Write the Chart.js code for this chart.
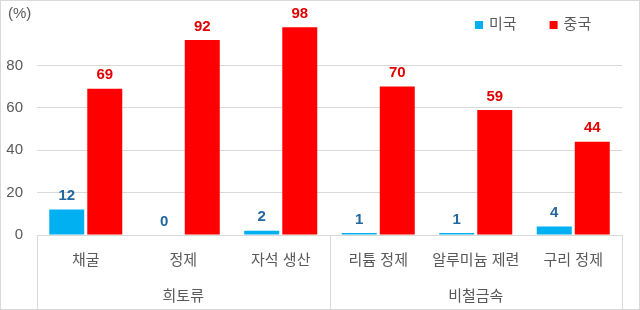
<!DOCTYPE html>
<html>
<head>
<meta charset="utf-8">
<script src="https://cdn.jsdelivr.net/npm/chart.js@4.4.1/dist/chart.umd.min.js"></script>
<style>
  html, body { margin: 0; padding: 0; background: #fff; }
</style>
</head>
<body>
<canvas id="chart" width="640" height="310"></canvas>
<script>
const categories = ["채굴", "정제", "자석 생산", "리튬 정제", "알루미늄 제련", "구리 정제"];
const groups = ["희토류", "비철금속"];
const groupSizes = [3, 3];
const usValues = [12, 0, 2, 1, 1, 4];
const chinaValues = [69, 92, 98, 70, 59, 44];
const yMax = 100;
const yStep = 20;

const FONT = '"Liberation Sans", "Noto Sans CJK KR", sans-serif';
const GRAY = "#595959";
const LINE = "#D9D9D9";

Chart.defaults.font.family = FONT;

const extras = {
  id: "extras",
  afterDatasetsDraw(chart) {
    const ctx = chart.ctx;
    ctx.save();
    // value labels over bars
    ctx.font = "bold 15px " + FONT;
    ctx.textAlign = "center";
    ctx.textBaseline = "bottom";
    chart.data.datasets.forEach((ds, i) => {
      ctx.fillStyle = ds.labelColor;
      chart.getDatasetMeta(i).data.forEach((bar, j) => {
        ctx.fillText(ds.data[j], bar.x, bar.y - 6);
      });
    });
    ctx.restore();
  },
  afterDraw(chart) {
    const ctx = chart.ctx;
    const x = chart.scales.x;
    const y = chart.scales.y;
    const area = chart.chartArea;
    ctx.save();

    // group dividers + group names
    ctx.strokeStyle = LINE;
    ctx.lineWidth = 1;
    const edges = [x.left];
    let idx = 0;
    groupSizes.forEach((n, g) => {
      idx += n;
      if (g < groupSizes.length - 1) {
        edges.push((x.getPixelForValue(idx - 1) + x.getPixelForValue(idx)) / 2);
      } else {
        edges.push(x.right);
      }
    });
    edges.forEach((px) => {
      const p = Math.round(px) + 0.5;
      ctx.beginPath();
      ctx.moveTo(p, area.bottom);
      ctx.lineTo(p, chart.height);
      ctx.stroke();
    });
    ctx.font = "15px " + FONT;
    ctx.fillStyle = GRAY;
    ctx.textAlign = "center";
    ctx.textBaseline = "middle";
    groups.forEach((name, g) => {
      ctx.fillText(name, (edges[g] + edges[g + 1]) / 2, chart.height - 13);
    });

    // unit label
    ctx.textAlign = "left";
    ctx.fillText("(%)", 8, y.getPixelForValue(yMax) - 9);

    // legend
    const items = chart.data.datasets.map((ds) => ({ text: ds.label, color: ds.backgroundColor }));
    let cx = 475;
    items.forEach((it) => {
      ctx.fillStyle = it.color;
      ctx.fillRect(cx, 21, 8, 8);
      ctx.fillStyle = GRAY;
      ctx.fillText(it.text, cx + 14, 25);
      cx += 14 + ctx.measureText(it.text).width + 33;
    });

    // outer frame
    ctx.strokeStyle = LINE;
    ctx.strokeRect(0.5, 0.5, chart.width - 1, chart.height - 1);
    ctx.restore();
  }
};

new Chart(document.getElementById("chart").getContext("2d"), {
  type: "bar",
  data: {
    labels: categories,
    datasets: [
      {
        label: "미국",
        data: usValues,
        backgroundColor: "#00B0F0",
        labelColor: "#23679F",
        categoryPercentage: 0.78,
        barPercentage: 0.92,
      },
      {
        label: "중국",
        data: chinaValues,
        backgroundColor: "#FF0000",
        labelColor: "#E00000",
        categoryPercentage: 0.78,
        barPercentage: 0.92,
      },
    ],
  },
  options: {
    responsive: false,
    animation: false,
    layout: {
      padding: { top: 16, left: 6, right: 18, bottom: 31 },
    },
    plugins: {
      legend: { display: false },
      tooltip: { enabled: false },
    },
    scales: {
      x: {
        grid: { display: false },
        border: { display: false },
        ticks: {
          color: GRAY,
          font: { size: 15 },
          padding: 9,
          autoSkip: false,
          maxRotation: 0,
        },
      },
      y: {
        min: 0,
        max: yMax,
        border: { display: false },
        grid: { color: LINE, drawTicks: false },
        afterFit: (scale) => { scale.width = 31; },
        ticks: {
          stepSize: yStep,
          color: GRAY,
          font: { size: 15 },
          padding: 14,
          callback: (v) => (v >= yMax ? null : v),
        },
      },
    },
  },
  plugins: [extras],
});
</script>
</body>
</html>
